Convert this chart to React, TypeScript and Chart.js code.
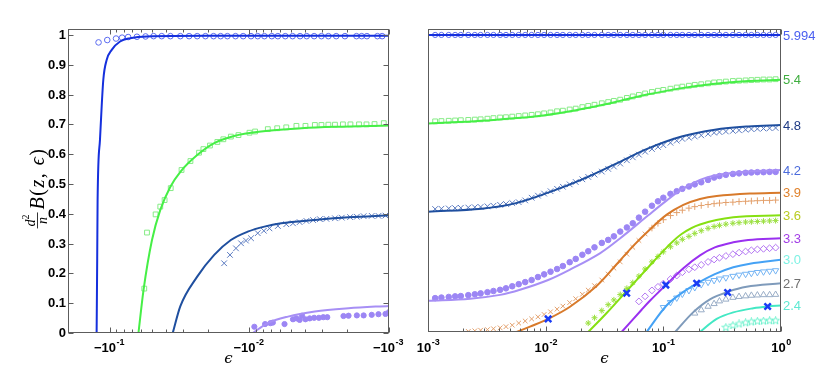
import React, { useEffect, useRef } from "react";
import { Chart, registerables } from "chart.js";

Chart.register(...registerables);

// ---------- axes / ticks ----------
const Y_TICKS = [0, 0.1, 0.2, 0.3, 0.4, 0.5, 0.6, 0.7, 0.8, 0.9, 1];
const Y_TICK_LABELS = ["0", "0.1", "0.2", "0.3", "0.4", "0.5", "0.6", "0.7", "0.8", "0.9", "1"];
const LEFT_X_TICKS = [-0.1, -0.01, -0.001];
const LEFT_X_TICK_BASE = "\u221210";
const LEFT_X_TICK_EXPS = ["-1", "-2", "-3"];
const RIGHT_X_TICKS = [0.001, 0.01, 0.1, 1];
const RIGHT_X_TICK_BASE = "10";
const RIGHT_X_TICK_EXPS = ["-3", "-2", "-1", "0"];

// ---------- LEFT PANEL (epsilon < 0) ----------
const lBlueLineEps = [-0.1247, -0.1235, -0.1227, -0.118, -0.1117, -0.1057, -0.0972, -0.0847, -0.0717, -0.0543, -0.02, -0.001];
const lBlueLineVal = [0, 0.25, 0.446, 0.648, 0.849, 0.916, 0.95, 0.978, 0.989, 0.995, 0.997, 0.997];
const lCircleEps = [-0.1208, -0.1046, -0.0905, -0.0819, -0.0741, -0.0641, -0.0556, -0.0487, -0.0426, -0.0369, -0.0313, -0.0271, -0.0237, -0.0207, -0.0181, -0.0161, -0.0144, -0.0126, -0.0111, -0.00975, -0.00873, -0.00782, -0.00692, -0.00626, -0.00554, -0.00491, -0.00434, -0.00389, -0.00344, -0.00305, -0.00272, -0.00239, -0.00207, -0.00171, -0.00157, -0.00144, -0.00121, -0.00112];
const lCircleVal = [0.975, 0.983, 0.988, 0.991, 0.993, 0.994, 0.995, 0.996, 0.996, 0.996, 0.996, 0.996, 0.996, 0.996, 0.996, 0.996, 0.996, 0.996, 0.996, 0.996, 0.996, 0.996, 0.996, 0.996, 0.996, 0.996, 0.996, 0.996, 0.996, 0.996, 0.996, 0.996, 0.996, 0.996, 0.996, 0.996, 0.996, 0.996];

const lGreenLineEps = [-0.0625, -0.0575, -0.05, -0.0436, -0.0369, -0.0313, -0.0237, -0.0179, -0.0129, -0.00826, -0.00425, -0.00244, -0.001];
const lGreenLineVal = [0, 0.144, 0.312, 0.413, 0.491, 0.541, 0.597, 0.637, 0.661, 0.676, 0.687, 0.692, 0.696];
const lSquareEps = [-0.0568, -0.0543, -0.0471, -0.0436, -0.0406, -0.0367, -0.0307, -0.0265, -0.023, -0.0214, -0.0192, -0.017, -0.0154, -0.0136, -0.012, -0.01, -0.00912, -0.00739, -0.00633, -0.00545, -0.00461, -0.00397, -0.0034, -0.00305, -0.00272, -0.00244, -0.00214, -0.00189, -0.00164, -0.00145, -0.00127, -0.00109];
const lSquareVal = [0.149, 0.337, 0.398, 0.424, 0.446, 0.486, 0.547, 0.577, 0.605, 0.617, 0.629, 0.641, 0.65, 0.659, 0.664, 0.672, 0.676, 0.684, 0.687, 0.69, 0.695, 0.695, 0.698, 0.698, 0.699, 0.699, 0.7, 0.7, 0.7, 0.7, 0.701, 0.704];

const lNavyLineEps = [-0.0355, -0.0313, -0.0237, -0.0179, -0.0136, -0.0103, -0.00782, -0.00593, -0.0034, -0.00195, -0.001];
const lNavyLineVal = [0, 0.09, 0.189, 0.262, 0.312, 0.34, 0.357, 0.368, 0.379, 0.388, 0.395];
const lCrossEps = [-0.0152, -0.0138, -0.0125, -0.0115, -0.0106, -0.00975, -0.00873, -0.00789, -0.00719, -0.00626, -0.00545, -0.00488, -0.00437, -0.00391, -0.0035, -0.00313, -0.00281, -0.00244, -0.00218, -0.0019, -0.0017, -0.00152, -0.00133, -0.00119, -0.00106];
const lCrossVal = [0.234, 0.262, 0.284, 0.301, 0.31, 0.318, 0.335, 0.343, 0.351, 0.359, 0.365, 0.368, 0.372, 0.376, 0.379, 0.382, 0.383, 0.385, 0.387, 0.389, 0.39, 0.392, 0.393, 0.393, 0.394];

const lLavLineEps = [-0.00948, -0.00739, -0.0053, -0.0034, -0.00195, -0.001];
const lLavLineVal = [0, 0.033, 0.055, 0.072, 0.083, 0.091];
const lDotEps = [-0.00923, -0.00773, -0.00708, -0.0068, -0.00561, -0.00488, -0.00461, -0.00437, -0.0042, -0.00397, -0.0037, -0.00344, -0.00318, -0.00296, -0.00277, -0.00212, -0.00195, -0.0017, -0.00152, -0.00133, -0.00119, -0.00106, -0.001];
const lDotVal = [0.021, 0.03, 0.033, 0.035, 0.03, 0.046, 0.049, 0.044, 0.058, 0.046, 0.049, 0.051, 0.051, 0.053, 0.053, 0.057, 0.058, 0.059, 0.059, 0.061, 0.063, 0.064, 0.07];

// ---------- RIGHT PANEL (epsilon > 0) ----------
const rLineLabels = ["5.994", "5.4", "4.8", "4.2", "3.9", "3.6", "3.3", "3.0", "2.7", "2.4"];
const rLabelColors = ["#4a5ff0", "#3fae3f", "#1e3a84", "#4b6bdc", "#e0822c", "#b9cb22", "#a23ee6", "#7ef2e4", "#6f6f6f", "#5fe9d2"];
const rLineColors = ["#1530dd", "#46ef46", "#1f4f9f", "#a78ff5", "#d87a2b", "#86e012", "#9a30f0", "#45a2f5", "#7f9bbb", "#43e8c4"];

const r5994Eps = [0.001, 1];
const r5994Val = [1, 1];
const r54Eps = [0.001, 0.00148, 0.00315, 0.00838, 0.0161, 0.0308, 0.0428, 0.0745, 0.143, 0.274, 0.526, 1];
const r54Val = [0.702, 0.705, 0.712, 0.726, 0.743, 0.765, 0.778, 0.8, 0.821, 0.836, 0.845, 0.849];
const r48Eps = [0.001, 0.00286, 0.00548, 0.0105, 0.0202, 0.0388, 0.0745, 0.143, 0.274, 0.526, 1];
const r48Val = [0.405, 0.415, 0.433, 0.469, 0.513, 0.565, 0.618, 0.658, 0.681, 0.692, 0.697];
const r42Eps = [0.001, 0.00228, 0.0041, 0.00605, 0.0105, 0.0161, 0.0289, 0.0428, 0.0745, 0.107, 0.143, 0.205, 0.274, 0.526, 1];
const r42Val = [0.105, 0.112, 0.125, 0.142, 0.175, 0.21, 0.265, 0.315, 0.393, 0.443, 0.48, 0.512, 0.527, 0.54, 0.545];
const r39Eps = [0.00567, 0.00736, 0.0105, 0.0161, 0.0271, 0.0401, 0.0555, 0.0769, 0.107, 0.148, 0.205, 0.284, 0.544, 1];
const r39Val = [0, 0.018, 0.044, 0.085, 0.155, 0.228, 0.29, 0.345, 0.395, 0.428, 0.448, 0.458, 0.466, 0.469];
const r36Eps = [0.023, 0.033, 0.0488, 0.0745, 0.107, 0.143, 0.205, 0.393, 1];
const r36Val = [0, 0.064, 0.138, 0.218, 0.285, 0.33, 0.362, 0.386, 0.393];
const r33Eps = [0.0442, 0.0654, 0.0769, 0.105, 0.148, 0.205, 0.274, 0.393, 0.526, 1];
const r33Val = [0, 0.075, 0.105, 0.158, 0.215, 0.258, 0.285, 0.302, 0.31, 0.316];
const r30Eps = [0.0721, 0.107, 0.148, 0.192, 0.274, 0.393, 0.544, 1];
const r30Val = [0, 0.09, 0.135, 0.163, 0.195, 0.218, 0.23, 0.243];
const r27Eps = [0.126, 0.179, 0.249, 0.352, 0.51, 1];
const r27Val = [0, 0.066, 0.11, 0.135, 0.152, 0.164];
const r24Eps = [0.205, 0.284, 0.393, 0.581, 0.77, 1];
const r24Val = [0, 0.044, 0.066, 0.08, 0.086, 0.089];

const rGridEps = [0.00115, 0.0013, 0.0015, 0.0017, 0.0019, 0.0022, 0.0025, 0.0028, 0.0032, 0.0036, 0.0041, 0.0046, 0.0052, 0.0059, 0.0067, 0.0076, 0.0086, 0.0097, 0.011, 0.0125, 0.014, 0.016, 0.018, 0.0205, 0.023, 0.026, 0.03, 0.034, 0.038, 0.043, 0.049, 0.055, 0.062, 0.07, 0.08, 0.09, 0.1, 0.115, 0.13, 0.145, 0.165, 0.185, 0.21, 0.24, 0.27, 0.3, 0.34, 0.39, 0.44, 0.5, 0.56, 0.63, 0.71, 0.8, 0.9];
const rCircleVal = [1, 1, 1, 1, 1, 1, 1, 1, 1, 1, 1, 1, 1, 1, 1, 1, 1, 1, 1, 1, 1, 1, 1, 1, 1, 1, 1, 1, 1, 1, 1, 1, 1, 1, 1, 1, 1, 1, 1, 1, 1, 1, 1, 1, 1, 1, 1, 1, 1, 1, 1, 1, 1, 1, 1];
const rSquareVal = [0.709, 0.71, 0.711, 0.712, 0.713, 0.714, 0.715, 0.716, 0.718, 0.72, 0.722, 0.723, 0.725, 0.727, 0.729, 0.731, 0.733, 0.736, 0.739, 0.743, 0.745, 0.749, 0.752, 0.757, 0.761, 0.765, 0.77, 0.774, 0.778, 0.782, 0.788, 0.793, 0.798, 0.803, 0.808, 0.812, 0.815, 0.819, 0.823, 0.826, 0.829, 0.832, 0.834, 0.837, 0.84, 0.841, 0.843, 0.845, 0.846, 0.847, 0.848, 0.849, 0.85, 0.85, 0.851];
const rCrossVal = [0.414, 0.415, 0.416, 0.417, 0.418, 0.419, 0.42, 0.421, 0.423, 0.425, 0.428, 0.431, 0.434, 0.437, 0.443, 0.452, 0.459, 0.466, 0.474, 0.482, 0.489, 0.497, 0.505, 0.514, 0.522, 0.53, 0.54, 0.549, 0.557, 0.567, 0.578, 0.588, 0.597, 0.607, 0.616, 0.623, 0.629, 0.637, 0.644, 0.65, 0.654, 0.658, 0.662, 0.667, 0.671, 0.673, 0.675, 0.677, 0.679, 0.681, 0.683, 0.684, 0.685, 0.686, 0.687];
const rDotVal = [0.114, 0.116, 0.118, 0.12, 0.121, 0.124, 0.127, 0.13, 0.134, 0.138, 0.142, 0.147, 0.154, 0.161, 0.168, 0.175, 0.185, 0.194, 0.203, 0.212, 0.222, 0.235, 0.246, 0.26, 0.272, 0.285, 0.3, 0.31, 0.322, 0.338, 0.352, 0.366, 0.385, 0.405, 0.425, 0.44, 0.452, 0.465, 0.474, 0.482, 0.49, 0.497, 0.504, 0.512, 0.52, 0.525, 0.529, 0.532, 0.534, 0.536, 0.537, 0.538, 0.538, 0.539, 0.539];

const rPlusEps = [0.0022, 0.0025, 0.0028, 0.0032, 0.0036, 0.0041, 0.0046, 0.0052, 0.0059, 0.0067, 0.0076, 0.0086, 0.0097, 0.011, 0.0125, 0.014, 0.016, 0.018, 0.0205, 0.023, 0.026, 0.03, 0.034, 0.038, 0.043, 0.049, 0.055, 0.062, 0.07, 0.08, 0.09, 0.1, 0.115, 0.13, 0.145, 0.165, 0.185, 0.21, 0.24, 0.27, 0.3, 0.34, 0.39, 0.44, 0.5, 0.56, 0.63, 0.71, 0.8, 0.9];
const rPlusVal = [0.002, 0.004, 0.006, 0.008, 0.011, 0.014, 0.018, 0.023, 0.03, 0.037, 0.044, 0.051, 0.059, 0.068, 0.077, 0.087, 0.099, 0.112, 0.127, 0.141, 0.156, 0.175, 0.195, 0.215, 0.236, 0.262, 0.285, 0.308, 0.33, 0.35, 0.366, 0.378, 0.392, 0.402, 0.41, 0.417, 0.422, 0.426, 0.429, 0.432, 0.434, 0.436, 0.437, 0.439, 0.44, 0.441, 0.442, 0.443, 0.443, 0.444];
const rAsterEps = [0.023, 0.026, 0.03, 0.034, 0.038, 0.043, 0.049, 0.055, 0.062, 0.07, 0.08, 0.09, 0.1, 0.115, 0.13, 0.145, 0.165, 0.185, 0.21, 0.24, 0.27, 0.3, 0.34, 0.39, 0.44, 0.5, 0.56, 0.63, 0.71, 0.8, 0.9];
const rAsterVal = [0.03, 0.048, 0.072, 0.092, 0.108, 0.126, 0.147, 0.166, 0.188, 0.212, 0.236, 0.254, 0.27, 0.287, 0.3, 0.312, 0.322, 0.332, 0.341, 0.349, 0.355, 0.359, 0.363, 0.366, 0.368, 0.37, 0.371, 0.372, 0.373, 0.374, 0.375];
const rDiamondEps = [0.062, 0.07, 0.08, 0.09, 0.1, 0.115, 0.13, 0.145, 0.165, 0.185, 0.21, 0.24, 0.27, 0.3, 0.34, 0.39, 0.44, 0.5, 0.56, 0.63, 0.71, 0.8, 0.9];
const rDiamondVal = [0.103, 0.12, 0.14, 0.152, 0.163, 0.178, 0.19, 0.201, 0.211, 0.218, 0.226, 0.236, 0.244, 0.25, 0.256, 0.262, 0.267, 0.271, 0.275, 0.278, 0.28, 0.282, 0.284];
const rTriDownEps = [0.1, 0.115, 0.13, 0.145, 0.165, 0.185, 0.21, 0.24, 0.27, 0.3, 0.34, 0.39, 0.44, 0.5, 0.56, 0.63, 0.71, 0.8, 0.9];
const rTriDownVal = [0.083, 0.1, 0.115, 0.128, 0.14, 0.15, 0.16, 0.168, 0.174, 0.179, 0.183, 0.188, 0.192, 0.195, 0.198, 0.201, 0.203, 0.205, 0.207];
const rTriUpEps = [0.185, 0.21, 0.24, 0.27, 0.3, 0.34, 0.39, 0.44, 0.5, 0.56, 0.63, 0.71, 0.8, 0.9];
const rTriUpVal = [0.063, 0.074, 0.086, 0.095, 0.104, 0.11, 0.116, 0.119, 0.121, 0.123, 0.124, 0.125, 0.125, 0.126];
const rStarEps = [0.34, 0.39, 0.44, 0.5, 0.56, 0.63, 0.71, 0.8, 0.9];
const rStarVal = [0.015, 0.022, 0.027, 0.031, 0.034, 0.036, 0.037, 0.038, 0.038];
const rBoldXEps = [0.0105, 0.0488, 0.105, 0.192, 0.352, 0.77];
const rBoldXVal = [0.044, 0.131, 0.158, 0.164, 0.133, 0.086];

// ---------- helpers ----------
const SANS = '"Liberation Sans", Arial, Helvetica, sans-serif';
const SERIF = '"Liberation Serif", "DejaVu Serif", serif';

function pts(eps: number[], vals: number[]) {
  return eps.map((e, i) => ({ x: Math.abs(e), y: vals[i] }));
}

function lineDs(eps: number[], vals: number[], color: string, smooth: "monotone" | "tension") {
  const base: any = {
    data: pts(eps, vals),
    borderColor: color,
    backgroundColor: color,
    borderWidth: 2,
    pointRadius: 0,
    fill: false,
    order: 1,
  };
  if (smooth === "monotone") base.cubicInterpolationMode = "monotone";
  else base.tension = 0.35;
  return base;
}

function markerDs(eps: number[], vals: number[], color: string, style: any, radius: number, extra: any = {}) {
  return {
    data: pts(eps, vals),
    showLine: false,
    borderColor: color,
    backgroundColor: "rgba(0,0,0,0)",
    pointBorderColor: color,
    pointBackgroundColor: "rgba(0,0,0,0)",
    pointStyle: style,
    pointRadius: radius,
    pointBorderWidth: 1,
    order: 2,
    ...extra,
  };
}

function makeStar(color: string) {
  const c = document.createElement("canvas");
  c.width = 9;
  c.height = 9;
  const g = c.getContext("2d")!;
  g.strokeStyle = color;
  g.lineWidth = 0.9;
  g.beginPath();
  for (let i = 0; i < 10; i++) {
    const r = i % 2 === 0 ? 4 : 1.7;
    const a = -Math.PI / 2 + (i * Math.PI) / 5;
    g.lineTo(4.5 + r * Math.cos(a), 4.5 + r * Math.sin(a));
  }
  g.closePath();
  g.stroke();
  return c;
}

function drawPow(ctx: CanvasRenderingContext2D, cx: number, baseY: number, base: string, exp: string) {
  const bf = `bold 13px ${SANS}`;
  const ef = `bold 9px ${SANS}`;
  ctx.font = bf;
  const wb = ctx.measureText(base).width;
  ctx.font = ef;
  const we = ctx.measureText(exp).width;
  const x = cx - (wb + we) / 2;
  ctx.textAlign = "left";
  ctx.textBaseline = "alphabetic";
  ctx.font = bf;
  ctx.fillText(base, x, baseY);
  ctx.font = ef;
  ctx.fillText(exp, x + wb + 0.5, baseY - 7);
}

function drawYTitle(ctx: CanvasRenderingContext2D, cx: number, cy: number) {
  ctx.save();
  ctx.translate(cx, cy);
  ctx.rotate(-Math.PI / 2);
  ctx.fillStyle = "#000";
  ctx.strokeStyle = "#000";
  ctx.textAlign = "left";
  ctx.textBaseline = "alphabetic";
  const fi = `italic 14px ${SERIF}`;
  const fs = `10px ${SERIF}`;
  const mi = `italic 20px ${SERIF}`;
  const mu = `20px ${SERIF}`;
  ctx.font = fi;
  const wd = ctx.measureText("d").width;
  const wn = ctx.measureText("n").width;
  ctx.font = fs;
  const w2 = ctx.measureText("2").width;
  const fracW = Math.max(wd + w2, wn) + 4;
  const segs: [string, string][] = [["B", mi], ["(", mu], ["z", mi], [",", mu], [" ", mu], ["\u03F5", mi], [")", mu]];
  let mainW = 0;
  const ws: number[] = [];
  for (const [t, f] of segs) {
    ctx.font = f;
    const w = ctx.measureText(t).width + 1.5;
    ws.push(w);
    mainW += w;
  }
  const gap = 3;
  const total = fracW + gap + mainW;
  let x = -total / 2;
  ctx.lineWidth = 0.8;
  ctx.beginPath();
  ctx.moveTo(x, 0.5);
  ctx.lineTo(x + fracW, 0.5);
  ctx.stroke();
  const nx = x + (fracW - (wd + w2)) / 2;
  ctx.font = fi;
  ctx.fillText("d", nx, -2.5);
  ctx.font = fs;
  ctx.fillText("2", nx + wd, -8);
  ctx.font = fi;
  ctx.fillText("n", x + (fracW - wn) / 2, 10);
  x += fracW + gap;
  segs.forEach(([t, f], i) => {
    ctx.font = f;
    ctx.fillText(t, x, 6.5);
    x += ws[i];
  });
  ctx.restore();
}

function makeAxesPlugin(kind: "left" | "right", labelSeries: number[][]) {
  return {
    id: "customAxes" + kind,
    afterDraw(chart: any) {
      const ctx: CanvasRenderingContext2D = chart.ctx;
      const a = chart.chartArea;
      const xs = chart.scales.x;
      const ys = chart.scales.y;
      ctx.save();
      const L = Math.round(a.left) + 0.5;
      const R = Math.round(a.right) - 0.5;
      const T = Math.round(a.top) + 0.5;
      const B = Math.round(a.bottom) - 0.5;
      ctx.strokeStyle = "#5c5c5c";
      ctx.lineWidth = 1;
      ctx.strokeRect(L, T, R - L, B - T);
      const lo = xs.min;
      const hi = xs.max;
      ctx.beginPath();
      for (let k = -3; k <= 0; k++) {
        for (let m = 1; m <= 9; m++) {
          const v = m * Math.pow(10, k);
          if (v < lo * 0.999 || v > hi * 1.001) continue;
          const px = Math.round(xs.getPixelForValue(v)) + 0.5;
          const len = m === 1 ? 5 : 3;
          ctx.moveTo(px, B);
          ctx.lineTo(px, B - len);
          ctx.moveTo(px, T);
          ctx.lineTo(px, T + len);
        }
      }
      if (kind === "left") {
        for (const t of Y_TICKS) {
          const py = Math.round(ys.getPixelForValue(t)) + 0.5;
          ctx.moveTo(L, py);
          ctx.lineTo(L + 5, py);
          ctx.moveTo(R, py);
          ctx.lineTo(R - 5, py);
        }
      }
      ctx.stroke();

      ctx.fillStyle = "#000";
      if (kind === "left") {
        ctx.font = `bold 13px ${SANS}`;
        ctx.textAlign = "right";
        ctx.textBaseline = "middle";
        Y_TICKS.forEach((t, i) => {
          ctx.fillText(Y_TICK_LABELS[i], a.left - 2, ys.getPixelForValue(t) + 0.5);
        });
        LEFT_X_TICKS.forEach((t, i) => {
          drawPow(ctx, xs.getPixelForValue(Math.abs(t)) - 1, 352, LEFT_X_TICK_BASE, LEFT_X_TICK_EXPS[i]);
        });
        drawYTitle(ctx, 37, 188);
      } else {
        RIGHT_X_TICKS.forEach((t, i) => {
          drawPow(ctx, xs.getPixelForValue(t), 352, RIGHT_X_TICK_BASE, RIGHT_X_TICK_EXPS[i]);
        });
        ctx.font = `13px ${SANS}`;
        ctx.textAlign = "left";
        ctx.textBaseline = "middle";
        labelSeries.forEach((vals, i) => {
          ctx.fillStyle = rLabelColors[i];
          ctx.fillText(rLineLabels[i], a.right + 2, ys.getPixelForValue(vals[vals.length - 1]) + 1);
        });
      }
      ctx.fillStyle = "#000";
      ctx.font = `italic 15px "DejaVu Serif", serif`;
      ctx.textAlign = "center";
      ctx.textBaseline = "middle";
      ctx.fillText("\u03F5", (a.left + a.right) / 2, 359);
      ctx.restore();
    },
  };
}

function baseOptions(kind: "left" | "right") {
  return {
    responsive: false,
    animation: false,
    events: [],
    layout: {
      padding: kind === "left" ? { left: 68, right: 26, top: 29, bottom: 54 } : { left: 13, right: 49, top: 29, bottom: 55 },
    },
    plugins: { legend: { display: false }, tooltip: { enabled: false } },
    scales: {
      x: {
        type: "logarithmic",
        min: 0.001,
        max: kind === "left" ? 0.2 : 1,
        reverse: kind === "left",
        display: false,
      },
      y: { type: "linear", min: 0, max: 1.02, display: false },
    },
  };
}

function leftConfig(): any {
  const datasets = [
    lineDs(lBlueLineEps, lBlueLineVal, "#1530dd", "monotone"),
    lineDs(lGreenLineEps, lGreenLineVal, "#46ef46", "monotone"),
    lineDs(lNavyLineEps, lNavyLineVal, "#1f4f9f", "monotone"),
    lineDs(lLavLineEps, lLavLineVal, "#a78ff5", "monotone"),
    markerDs(lCircleEps, lCircleVal, "#5a6af0", "circle", 2.8),
    markerDs(lSquareEps, lSquareVal, "#86ec86", "rect", 3.4),
    markerDs(lCrossEps, lCrossVal, "#5a7ac0", "crossRot", 4),
    markerDs(lDotEps, lDotVal, "#9c86f4", "circle", 2.6, { pointBackgroundColor: "#9c86f4", backgroundColor: "#9c86f4" }),
  ];
  return {
    type: "line",
    data: { datasets },
    options: baseOptions("left"),
    plugins: [makeAxesPlugin("left", [])],
  };
}

function rightConfig(): any {
  const lines = [
    [r5994Eps, r5994Val],
    [r54Eps, r54Val],
    [r48Eps, r48Val],
    [r42Eps, r42Val],
    [r39Eps, r39Val],
    [r36Eps, r36Val],
    [r33Eps, r33Val],
    [r30Eps, r30Val],
    [r27Eps, r27Val],
    [r24Eps, r24Val],
  ];
  const plusStyles = rPlusEps.map((e) => (e <= 0.07 ? "crossRot" : "cross"));
  const datasets: any[] = lines.map(([e, v], i) => lineDs(e, v, rLineColors[i], "tension"));
  datasets.push(
    markerDs(rGridEps, rCircleVal, "#5a6af0", "circle", 2.6),
    markerDs(rGridEps, rSquareVal, "#86ec86", "rect", 3.4),
    markerDs(rGridEps, rCrossVal, "#5a7ac0", "crossRot", 4),
    markerDs(rGridEps, rDotVal, "#9c86f4", "circle", 2.8, { pointBackgroundColor: "#9c86f4", backgroundColor: "#9c86f4" }),
    markerDs(rPlusEps, rPlusVal, "#e3a06c", plusStyles, 3.3),
    markerDs(rAsterEps, rAsterVal, "#9be040", "star", 3),
    markerDs(rDiamondEps, rDiamondVal, "#b274f2", "rectRot", 3.4),
    markerDs(rTriDownEps, rTriDownVal, "#74b4f4", "triangle", 3.6, { pointRotation: 180 }),
    markerDs(rTriUpEps, rTriUpVal, "#98acc6", "triangle", 3.6),
    markerDs(rStarEps, rStarVal, "#5ef0c8", makeStar("#5ef0c8"), 4),
    markerDs(rBoldXEps, rBoldXVal, "#1a3cf5", "crossRot", 4.5, { pointBorderWidth: 2.5, order: 0 })
  );
  return {
    type: "line",
    data: { datasets },
    options: baseOptions("right"),
    plugins: [makeAxesPlugin("right", lines.map((l) => l[1]))],
  };
}

export default function App() {
  const leftRef = useRef<HTMLCanvasElement>(null);
  const rightRef = useRef<HTMLCanvasElement>(null);
  useEffect(() => {
    const c1 = new Chart(leftRef.current!, leftConfig());
    const c2 = new Chart(rightRef.current!, rightConfig());
    return () => {
      c1.destroy();
      c2.destroy();
    };
  }, []);
  return (
    <div style={{ position: "absolute", left: 0, top: 0, width: 830, height: 387, display: "flex", background: "#fff" }}>
      <canvas ref={leftRef} width={415} height={387} style={{ display: "block" }} />
      <canvas ref={rightRef} width={415} height={387} style={{ display: "block" }} />
    </div>
  );
}
